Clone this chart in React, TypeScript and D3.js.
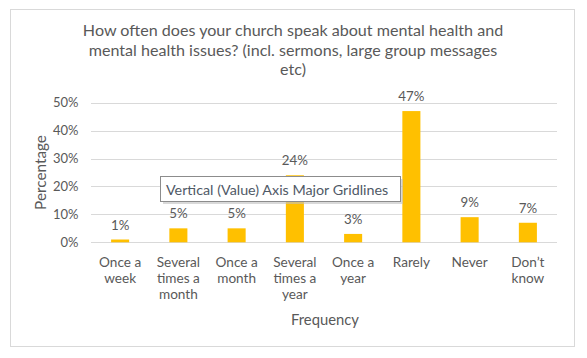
import React from "react";
import * as d3 from "d3";

const categories = ["Once a week", "Several times a month", "Once a month", "Several times a year", "Once a year", "Rarely", "Never", "Don’t know"];
const categoryLines = [["Once a", "week"], ["Several", "times a", "month"], ["Once a", "month"], ["Several", "times a", "year"], ["Once a", "year"], ["Rarely"], ["Never"], ["Don’t", "know"]];
const values = [1, 5, 5, 24, 3, 47, 9, 7];
const yTicks = [0, 10, 20, 30, 40, 50];
const titleLines = [
  "How often does your church speak about mental health and",
  "mental health issues? (incl. sermons, large group messages",
  "etc)",
];
const yTitle = "Percentage";
const xTitle = "Frequency";
const tooltipText = "Vertical (Value) Axis Major Gridlines";

const W = 587;
const H = 358;
const FONT = "Lato, 'Open Sans', sans-serif";
const TXT = "#595959";

export default function App() {
  const x = d3.scaleBand<string>().domain(categories).range([91, 557]).paddingInner(0.69).paddingOuter(0.345);
  const y = d3.scaleLinear().domain([0, 50]).range([242.3, 102.7]);
  const fmt = (v: number) => `${v}%`;

  return (
    <div style={{ position: "fixed", left: 0, top: 0 }}>
      <svg width={W} height={H} style={{ display: "block", background: "#fff" }} fontFamily={FONT}>
        <rect x={10.5} y={9.5} width={564} height={337} fill="#fff" stroke="#d9d9d9" strokeWidth={1} />
        {titleLines.map((t, i) => (
          <text key={i} x={293} y={36 + i * 19.7} textAnchor="middle" fontSize={16.1} fill={TXT}>
            {t}
          </text>
        ))}
        {yTicks.map((t) => (
          <g key={t}>
            <line x1={91} x2={557} y1={Math.round(y(t)) + 0.5} y2={Math.round(y(t)) + 0.5} stroke="#d9d9d9" strokeWidth={1} />
            <text x={78.5} y={y(t)} dy="0.35em" textAnchor="end" fontSize={13} fill={TXT}>
              {fmt(t)}
            </text>
          </g>
        ))}
        {categories.map((c, i) => (
          <rect key={c} x={x(c)} y={y(values[i])} width={x.bandwidth()} height={y(0) - y(values[i])} fill="#FFC000" />
        ))}
        {categories.map((c, i) => (
          <text key={c} x={(x(c) as number) + x.bandwidth() / 2} y={y(values[i]) - 10} textAnchor="middle" fontSize={13.3} fill={TXT}>
            {fmt(values[i])}
          </text>
        ))}
        {categories.map((c, i) => (
          <text key={c} x={(x(c) as number) + x.bandwidth() / 2} textAnchor="middle" fontSize={13.6} fill={TXT}>
            {categoryLines[i].map((l, j) => (
              <tspan key={j} x={(x(c) as number) + x.bandwidth() / 2} y={266.5 + j * 16.3}>
                {l}
              </tspan>
            ))}
          </text>
        ))}
        <text x={325} y={324.5} textAnchor="middle" fontSize={14.8} fill={TXT}>
          {xTitle}
        </text>
        <text transform={`translate(45.5,${(y(0) + y(50)) / 2}) rotate(-90)`} textAnchor="middle" fontSize={15.3} fill={TXT}>
          {yTitle}
        </text>
        <g>
          <rect x={163} y={179} width={240} height={25} fill="#bfbfbf" opacity={0.6} />
          <rect x={160.5} y={176.5} width={240} height={25} fill="#fff" stroke="#8c8c8c" strokeWidth={1} />
          <text x={166} y={194.5} fontSize={14.3} fill="#4f5966">
            {tooltipText}
          </text>
        </g>
      </svg>
    </div>
  );
}
